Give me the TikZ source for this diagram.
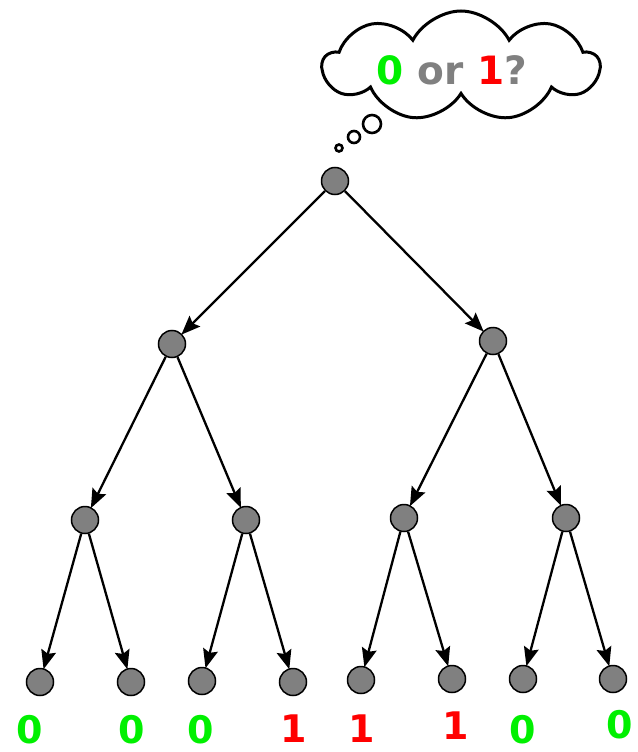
\documentclass[tikz,border=0pt]{standalone}
\usepackage{fontspec}
\setmainfont{DejaVu Sans}
\usetikzlibrary{arrows.meta,shapes.symbols}
\definecolor{dgreen}{RGB}{0,240,0}
\definecolor{dred}{RGB}{255,0,0}
\definecolor{dgray}{RGB}{128,128,128}
\begin{document}
\begin{tikzpicture}[x=1pt,y=-1pt,
  vert/.style={circle,draw=black,line width=1.5pt,fill=dgray,minimum size=27pt,inner sep=0pt},
  edge/.style={line width=2.3pt,-{Stealth[length=19pt,width=15pt,inset=3pt]},shorten >=-1pt},
  lbl/.style={font=\fontsize{38}{38}\selectfont\bfseries,inner sep=0pt},
  bub/.style={draw=black,line width=2.6pt,fill=white}]
\useasboundingbox (0,0) rectangle (637,752);
% cloud
\node[cloud,cloud puffs=9,cloud puff arc=125,aspect=2.4,draw=black,line width=3pt,fill=white,
      minimum width=276pt,minimum height=110pt,inner sep=0pt] (cloud) at (461,66) {};
\node[font=\fontsize{39}{39}\selectfont\bfseries,inner sep=0pt] (q) at (452,70)
  {\textcolor{dgreen}{0} \textcolor{dgray}{or} \textcolor{dred}{1}\textcolor{dgray}{?}};
\node[bub,circle,minimum size=18pt,inner sep=0pt] (b3) at (372,124) {};
\node[bub,circle,minimum size=12pt,inner sep=0pt] (b2) at (354,137) {};
\node[bub,circle,minimum size=7pt,inner sep=0pt] (b1) at (339,148) {};
% nodes
\node[vert] (r) at (335,181) {};
\node[vert] (a) at (172,344) {};
\node[vert] (b) at (493,341) {};
\node[vert] (aa) at (85,520) {};
\node[vert] (ab) at (246,520) {};
\node[vert] (ba) at (404,518) {};
\node[vert] (bb) at (566,518) {};
\node[vert] (l1) at (40,682) {};
\node[vert] (l2) at (131,682) {};
\node[vert] (l3) at (202,681) {};
\node[vert] (l4) at (293,682) {};
\node[vert] (l5) at (361,680) {};
\node[vert] (l6) at (452,679) {};
\node[vert] (l7) at (523,679) {};
\node[vert] (l8) at (613,679) {};
% edges
\draw[edge] (r) -- (a);
\draw[edge] (r) -- (b);
\draw[edge] (a) -- (aa);
\draw[edge] (a) -- (ab);
\draw[edge] (b) -- (ba);
\draw[edge] (b) -- (bb);
\draw[edge] (aa) -- (l1);
\draw[edge] (aa) -- (l2);
\draw[edge] (ab) -- (l3);
\draw[edge] (ab) -- (l4);
\draw[edge] (ba) -- (l5);
\draw[edge] (ba) -- (l6);
\draw[edge] (bb) -- (l7);
\draw[edge] (bb) -- (l8);
% labels
\node[lbl,text=dgreen] (t1) at (30,730) {0};
\node[lbl,text=dgreen] (t2) at (132,730) {0};
\node[lbl,text=dgreen] (t3) at (201,730) {0};
\node[lbl,text=dred] (t4) at (294,729) {1};
\node[lbl,text=dred] (t5) at (362,729) {1};
\node[lbl,text=dred] (t6) at (456,726) {1};
\node[lbl,text=dgreen] (t7) at (523,730) {0};
\node[lbl,text=dgreen] (t8) at (620,725) {0};
\end{tikzpicture}
\end{document}
